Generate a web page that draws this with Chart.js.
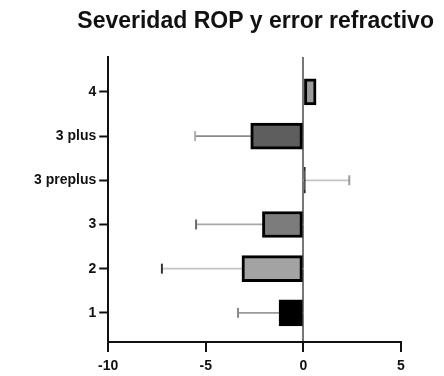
<!DOCTYPE html>
<html>
<head>
<meta charset="utf-8">
<script src="https://cdn.jsdelivr.net/npm/chart.js@4"></script>
<style>
  html, body { margin: 0; padding: 0; background: #fff; }
  #wrap { width: 444px; height: 376px; }
</style>
</head>
<body>
<div id="wrap"><canvas id="ropChart"></canvas></div>
<script>
// data, bottom to top
const categories = ['1', '2', '3', '3 preplus', '3 plus', '4'];
const meanValues = [-1.25, -3.15, -2.1, 0.1, -2.7, 0.65];
const errorEnds = [-3.35, -7.25, -5.5, 2.35, -5.55, null];
const xTicks = [-10, -5, 0, 5];
const titleText = 'Severidad ROP y error refractivo';

// styles
const barColors = ['#000000', '#a3a3a3', '#7c7c7c', '#000000', '#5e5e5e', '#9c9c9c'];
const errLineColors = ['#9a9a9a', '#c4c4c4', '#a8a8a8', '#c4c4c4', '#8a8a8a', '#999'];
const errCapColors = ['#8a8a8a', '#333333', '#6a6a6a', '#9a9a9a', '#b0b0b0', '#999'];

const FONT = 'Arial, "Liberation Sans", sans-serif';

// error bars, drawn behind the bars
const errorBars = {
    id: 'errorBars',
    beforeDatasetsDraw(chart) {
        const ctx = chart.ctx;
        const xs = chart.scales.x, ys = chart.scales.y;
        ctx.save();
        errorEnds.forEach((end, i) => {
            if (end === null) return;
            const y = ys.getPixelForValue(i + 1);
            const x0 = xs.getPixelForValue(0);
            const x1 = xs.getPixelForValue(end);
            ctx.strokeStyle = errLineColors[i];
            ctx.lineWidth = 1.7;
            ctx.beginPath();
            ctx.moveTo(x0, y);
            ctx.lineTo(x1, y);
            ctx.stroke();
            ctx.strokeStyle = errCapColors[i];
            ctx.lineWidth = 2;
            ctx.beginPath();
            ctx.moveTo(x1, y - 5);
            ctx.lineTo(x1, y + 5);
            ctx.stroke();
        });
        ctx.restore();
    }
};

// title centred over the plot area (built-in title squeezes the text to the box width)
const centredTitle = {
    id: 'centredTitle',
    afterDraw(chart) {
        const ctx = chart.ctx;
        const area = chart.chartArea;
        ctx.save();
        ctx.font = 'bold 23px ' + FONT;
        ctx.fillStyle = '#111';
        ctx.textAlign = 'center';
        ctx.textBaseline = 'middle';
        ctx.fillText(titleText, (area.left + area.right) / 2 + 1, 22);
        ctx.restore();
    }
};

new Chart(document.getElementById('ropChart'), {
    type: 'bar',
    data: {
        datasets: [{
            data: meanValues.map((v, i) => ({ x: v, y: i + 1 })),
            backgroundColor: barColors,
            borderColor: '#000',
            borderWidth: 3,
            borderSkipped: false,
            barThickness: 26
        }]
    },
    options: {
        indexAxis: 'y',
        responsive: true,
        maintainAspectRatio: false,
        animation: false,
        layout: { padding: { left: 31, right: 43, top: 57, bottom: 0 } },
        plugins: {
            legend: { display: false },
            tooltip: { enabled: false },
            title: { display: false }
        },
        scales: {
            x: {
                type: 'linear',
                min: -10,
                max: 5,
                afterBuildTicks: axis => { axis.ticks = xTicks.map(v => ({ value: v })); },
                afterFit: axis => { axis.height = 34; },
                ticks: {
                    color: '#111',
                    font: { family: FONT, size: 14, weight: 'bold' },
                    padding: 6
                },
                grid: {
                    color: ctx => ctx.tick && ctx.tick.value === 0 ? '#777' : 'rgba(0,0,0,0)',
                    lineWidth: 2,
                    tickColor: '#111',
                    tickLength: 10,
                    tickWidth: 2
                },
                border: { color: '#111', width: 2 }
            },
            y: {
                type: 'linear',
                min: 0.34,
                max: 6.79,
                offset: false,
                afterBuildTicks: axis => { axis.ticks = categories.map((c, i) => ({ value: i + 1 })); },
                ticks: {
                    color: '#111',
                    font: { family: FONT, size: 14, weight: 'bold' },
                    padding: 3,
                    callback: v => categories[v - 1]
                },
                grid: {
                    offset: false,
                    drawOnChartArea: false,
                    tickColor: '#111',
                    tickLength: 9,
                    tickWidth: 2
                },
                border: { color: '#111', width: 2 }
            }
        }
    },
    plugins: [errorBars, centredTitle]
});
</script>
</body>
</html>
